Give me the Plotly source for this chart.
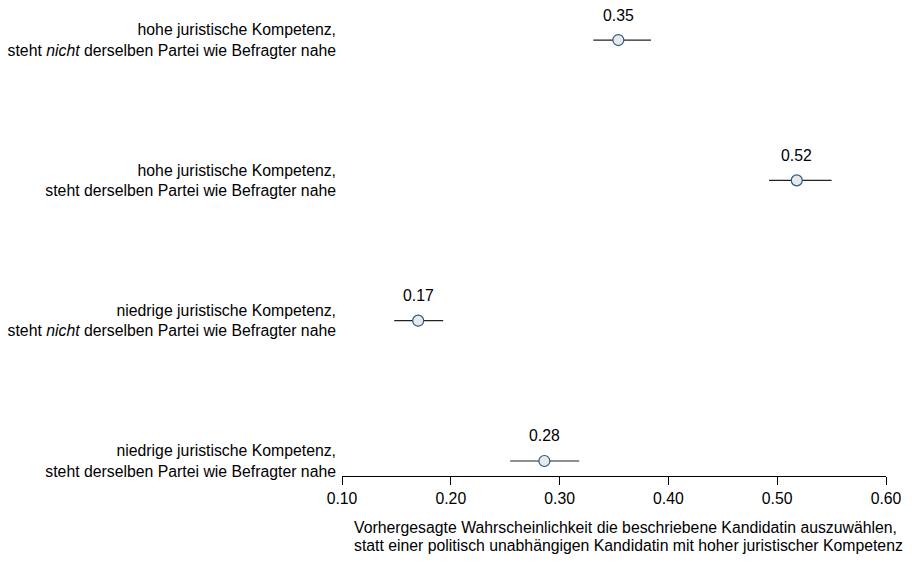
import plotly.graph_objects as go

categories = [
    "hohe juristische Kompetenz,<br>steht <i>nicht</i> derselben Partei wie Befragter nahe",
    "hohe juristische Kompetenz,<br>steht derselben Partei wie Befragter nahe",
    "niedrige juristische Kompetenz,<br>steht <i>nicht</i> derselben Partei wie Befragter nahe",
    "niedrige juristische Kompetenz,<br>steht derselben Partei wie Befragter nahe",
]
row_pos = [4, 3, 2, 1]
estimate = [0.354, 0.518, 0.170, 0.286]
ci_low = [0.331, 0.4925, 0.148, 0.2545]
ci_high = [0.384, 0.550, 0.193, 0.318]
value_labels = ["0.35", "0.52", "0.17", "0.28"]
tick_vals = [0.1, 0.2, 0.3, 0.4, 0.5, 0.6]
tick_text = ["0.10", "0.20", "0.30", "0.40", "0.50", "0.60"]
x_title_lines = [
    "Vorhergesagte Wahrscheinlichkeit die beschriebene Kandidatin auszuwählen,",
    "statt einer politisch unabhängigen Kandidatin mit hoher juristischer Kompetenz",
]

FONT = "Liberation Sans, Arial, Helvetica, sans-serif"
FS = 15.8

fig = go.Figure()
fig.add_trace(go.Scatter(
    x=estimate, y=row_pos, mode="markers",
    marker=dict(symbol="circle", size=11, color="#e9e9e9",
                line=dict(color="#2b5687", width=1.2)),
    error_x=dict(type="data", symmetric=False,
                 array=[h - e for h, e in zip(ci_high, estimate)],
                 arrayminus=[e - l for e, l in zip(estimate, ci_low)],
                 color="#222222", thickness=1.2, width=0),
    showlegend=False, hoverinfo="skip",
))

for x, y, t in zip(estimate, row_pos, value_labels):
    fig.add_annotation(x=x, y=y, text=t, showarrow=False, yshift=25,
                       xanchor="center", yanchor="middle",
                       font=dict(family=FONT, size=FS, color="black"))

for i, line in enumerate(x_title_lines):
    fig.add_annotation(x=0.019, y=0, xref="paper", yref="paper",
                       text=line, showarrow=False, align="left",
                       xanchor="left", yanchor="middle", yshift=-51 - 18.5 * i,
                       font=dict(family=FONT, size=FS, color="black"))

fig.update_layout(
    width=912, height=563,
    margin=dict(l=342, r=26, t=10, b=87, autoexpand=False),
    plot_bgcolor="white", paper_bgcolor="white",
    font=dict(family=FONT, size=FS, color="black"),
    xaxis=dict(range=[0.1, 0.6], tickvals=tick_vals, ticktext=tick_text,
               showline=True, linecolor="black", linewidth=1,
               ticks="outside", ticklen=8, tickcolor="black", tickwidth=1,
               showgrid=False, zeroline=False, fixedrange=True, automargin=False),
    yaxis=dict(range=[0.893, 4.214], tickvals=row_pos, ticktext=categories,
               showline=False, ticks="", showgrid=False, zeroline=False,
               ticklabelstandoff=5, fixedrange=True, automargin=False),
)

fig.write_html("out.html", config={"displayModeBar": False},
               post_script="document.body.style.margin='0';document.body.style.padding='0';")
